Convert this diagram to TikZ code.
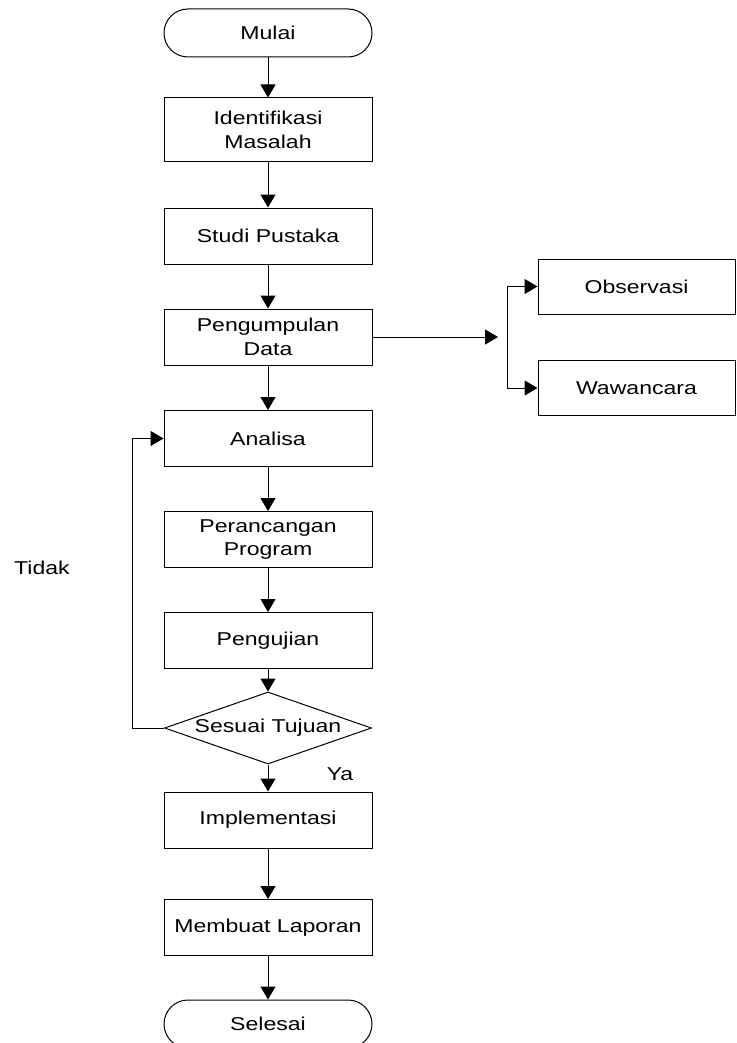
\documentclass[tikz,border=0pt]{standalone}
\usepackage{fontspec}
\setmainfont{Liberation Sans}[FakeStretch=1.24]
\usepackage{tikz}
\usetikzlibrary{arrows.meta}
\usetikzlibrary{shapes.geometric}

\begin{document}
\begin{tikzpicture}[x=1pt, y=-1pt, line width=1pt, line join=miter,
    >={Triangle[length=13pt, width=15pt]},
    font=\fontsize{18.6}{23.5}\selectfont,
    proses/.style={draw, minimum width=208pt, minimum height=56pt, align=center, inner sep=0pt},
    terminal/.style={draw, rounded corners=24pt, minimum width=208pt, minimum height=48pt, inner sep=0pt},
    keputusan/.style={draw, diamond, aspect=2.9, minimum width=207pt, minimum height=72pt, inner sep=0pt}]
  \useasboundingbox (0,0) rectangle (736,1043);
  %--- Mulai
    \node[terminal] (mulai) at (268, 33) {Mulai};
  %--- Alur utama
    \node[proses, minimum height=64pt] (identifikasi) at (268, 130) {Identifikasi\\ Masalah};
    \node[proses] (studi) at (268, 236) {Studi Pustaka};
    \node[proses] (pengumpulan) at (268, 337) {Pengumpulan\\ Data};
    \node[proses] (analisa) at (268, 438.5) {Analisa};
    \node[proses] (perancangan) at (268, 539.5) {Perancangan\\ Program};
    \node[proses] (pengujian) at (268, 640.5) {Pengujian};
    \node[keputusan] (sesuai) at (268, 728) {Sesuai Tujuan};
    \node[proses] (implementasi) at (268, 820) {Implementasi};
    \node[proses] (laporan) at (268, 927.5) {Membuat Laporan};
  %--- Selesai
    \node[terminal] (selesai) at (268, 1024) {Selesai};
  %--- Pengumpulan data
    \node[proses, minimum width=197pt, minimum height=55pt] (observasi) at (636.5, 286.5) {Observasi};
    \node[proses, minimum width=197pt, minimum height=55pt] (wawancara) at (636.5, 388) {Wawancara};
  % Label
    \node (tidak) at (42, 568) {Tidak};
    \node (ya) at (340, 774) {Ya};
  % Panah
    \draw[->] (mulai) -- (identifikasi);
    \draw[->] (identifikasi) -- (studi);
    \draw[->] (studi) -- (pengumpulan);
    \draw[->] (pengumpulan) -- (analisa);
    \draw[->] (analisa) -- (perancangan);
    \draw[->] (perancangan) -- (pengujian);
    \draw[->] (pengujian) -- (sesuai);
    \draw[->] (sesuai) -- (implementasi);
    \draw[->] (implementasi) -- (laporan);
    \draw[->] (laporan) -- (selesai);
  % Kembali ke analisa
    \draw[->] (sesuai.west) -- ++(-32, 0) |- (analisa.west);
  % Cabang
    \coordinate (ujung) at (498, 337);
    \coordinate (cabang) at (507, 337);
    \draw[->] (pengumpulan.east) -- (ujung);
    \draw[->] (cabang) |- (observasi.west);
    \draw[->] (cabang) |- (wawancara.west);
\end{tikzpicture}
\end{document}
